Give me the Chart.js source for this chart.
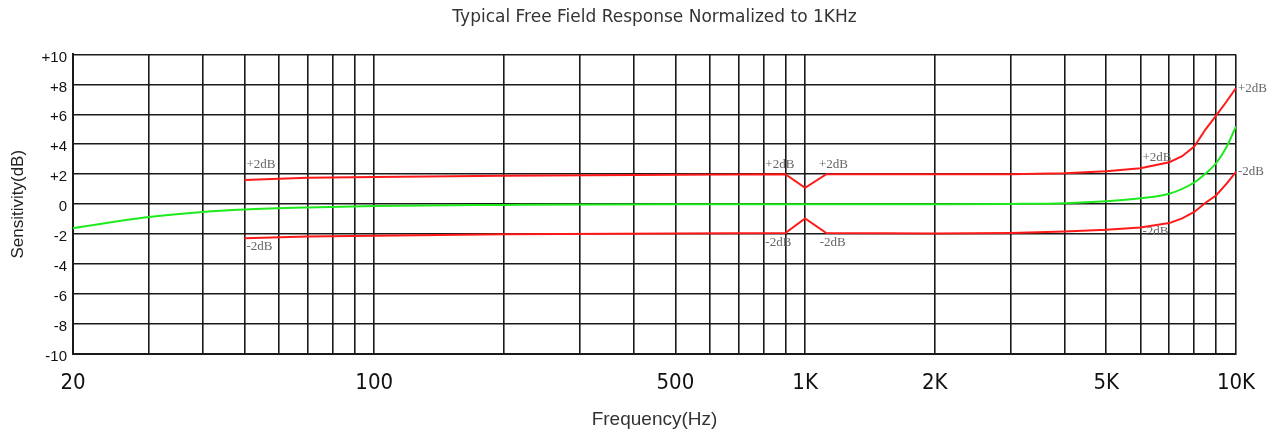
<!DOCTYPE html>
<html>
<head>
<meta charset="utf-8">
<script src="https://cdn.jsdelivr.net/npm/chart.js@4.4.1/dist/chart.umd.min.js"></script>
<style>
  html, body { margin: 0; padding: 0; background: #fff; }
  #wrap { width: 1280px; height: 435px; }
</style>
</head>
<body>
<div id="wrap"><canvas id="chart" width="1280" height="435"></canvas></div>
<script>
// x grid lines (Hz) and the labelled ones
const gridFreqs = [20, 30, 40, 50, 60, 70, 80, 90,
  100, 200, 300, 400, 500, 600, 700, 800, 900,
  1000, 2000, 3000, 4000, 5000, 6000, 7000, 8000, 9000, 10000];
const xTickValues = [20, 100, 500, 1000, 2000, 5000, 10000];
const xTickLabels = ["20", "100", "500", "1K", "2K", "5K", "10K"];

const yTickValues = [-10, -8, -6, -4, -2, 0, 2, 4, 6, 8, 10];
const yTickLabels = ["-10", "-8", "-6", "-4", "-2", "0", "+2", "+4", "+6", "+8", "+10"];

// typical response (green)
const respFreqs = [20, 30, 40, 50, 70, 100, 200, 500, 1000, 2000, 3000, 4000,
  5000, 6000, 7000, 8000, 8500, 9000, 9500, 10000];
const respValues = [-1.6, -0.86, -0.52, -0.36, -0.22, -0.12, -0.05, 0, 0, 0, 0.02, 0.07,
  0.2, 0.4, 0.7, 1.45, 2.05, 2.75, 3.8, 5.2];

// tolerance limits (red)
const limitFreqs = [50, 70, 100, 200, 500, 900, 1000, 1120, 2000, 3000, 4000,
  5000, 6000, 7000, 7500, 8000, 8500, 9000, 9500, 10000];
const upperValues = [1.62, 1.76, 1.82, 1.9, 1.96, 2.0, 1.1, 2.0, 2.0, 2.0, 2.07,
  2.2, 2.4, 2.8, 3.2, 3.85, 5.0, 5.93, 6.84, 7.75];
const lowerValues = [-2.27, -2.16, -2.1, -2.0, -1.96, -1.92, -0.95, -1.92, -1.95, -1.92, -1.82,
  -1.7, -1.55, -1.26, -0.95, -0.52, 0.1, 0.6, 1.35, 2.15];

// the little "+2dB" / "-2dB" notes
const noteTexts = ["+2dB", "-2dB", "+2dB", "+2dB", "-2dB", "-2dB", "+2dB", "-2dB", "+2dB", "-2dB"];
const noteFreqs = [50, 50, 800, 1065, 800, 1070, 6000, 6000, 10000, 10000];
const noteValues = [2.65, -2.8, 2.65, 2.65, -2.55, -2.55, 3.1, -1.8, 7.7, 2.15];

const toXY = (xs, ys) => xs.map((x, i) => ({ x: x, y: ys[i] }));

const notesPlugin = {
  id: "notes",
  afterDatasetsDraw(chart) {
    const ctx = chart.ctx;
    const xs = chart.scales.x;
    const ys = chart.scales.y;
    ctx.save();
    ctx.font = "13px 'Liberation Serif', 'DejaVu Serif', serif";
    ctx.fillStyle = "#666";
    ctx.textAlign = "left";
    ctx.textBaseline = "middle";
    noteTexts.forEach((t, i) => {
      ctx.fillText(t, xs.getPixelForValue(noteFreqs[i]) + 2, ys.getPixelForValue(noteValues[i]));
    });
    ctx.restore();
  }
};

const ctx = document.getElementById("chart").getContext("2d");
new Chart(ctx, {
  type: "line",
  data: {
    datasets: [
      {
        label: "upper",
        data: toXY(limitFreqs, upperValues),
        borderColor: "rgb(255, 25, 25)",
        borderWidth: 2,
        pointRadius: 0,
        tension: 0,
      },
      {
        label: "lower",
        data: toXY(limitFreqs, lowerValues),
        borderColor: "rgb(255, 25, 25)",
        borderWidth: 2,
        pointRadius: 0,
        tension: 0,
      },
      {
        label: "typical",
        data: toXY(respFreqs, respValues),
        borderColor: "rgb(30, 235, 30)",
        borderWidth: 2,
        pointRadius: 0,
        cubicInterpolationMode: "monotone",
      },
    ],
  },
  options: {
    responsive: false,
    animation: false,
    layout: { padding: { left: 8, right: 44, top: 0, bottom: 0 } },
    plugins: {
      legend: { display: false },
      tooltip: { enabled: false },
      title: {
        display: true,
        fullSize: false,
        text: "Typical Free Field Response Normalized to 1KHz",
        color: "#333",
        font: { family: "'DejaVu Sans', sans-serif", size: 17, weight: "normal" },
        padding: { top: 7, bottom: 27 },
      },
    },
    scales: {
      x: {
        type: "logarithmic",
        min: 20,
        max: 10000,
        afterBuildTicks: (scale) => {
          scale.ticks = gridFreqs.map((v) => ({ value: v }));
        },
        afterFit: (scale) => { scale.height = 81; },
        ticks: {
          autoSkip: false,
          maxRotation: 0,
          padding: 16,
          color: "#111",
          font: { family: "'Liberation Sans Narrow', 'DejaVu Sans Condensed', sans-serif", size: 22 },
          callback: (value) => {
            const i = xTickValues.indexOf(value);
            return i >= 0 ? xTickLabels[i] : "";
          },
        },
        grid: { color: "#1a1a1a", lineWidth: 1.6, drawTicks: false },
        border: { color: "#1a1a1a", width: 2 },
        title: {
          display: true,
          text: "Frequency(Hz)",
          color: "#333",
          font: { family: "'Liberation Sans', sans-serif", size: 19 },
          padding: { top: 0, bottom: 4 },
        },
      },
      y: {
        min: -10,
        max: 10,
        afterBuildTicks: (scale) => {
          scale.ticks = yTickValues.map((v) => ({ value: v }));
        },
        afterFit: (scale) => { scale.width = 65; },
        ticks: {
          padding: 6,
          labelOffset: 3,
          color: "#111",
          font: { family: "'Liberation Sans', sans-serif", size: 15 },
          callback: (value) => {
            const i = yTickValues.indexOf(value);
            return i >= 0 ? yTickLabels[i] : "";
          },
        },
        grid: { color: "#1a1a1a", lineWidth: 1.6, drawTicks: false },
        border: { color: "#1a1a1a", width: 2 },
        title: {
          display: true,
          text: "Sensitivity(dB)",
          color: "#222",
          font: { family: "'Liberation Sans', sans-serif", size: 17 },
          padding: { top: 0, bottom: 0 },
        },
      },
    },
  },
  plugins: [notesPlugin],
});
</script>
</body>
</html>
